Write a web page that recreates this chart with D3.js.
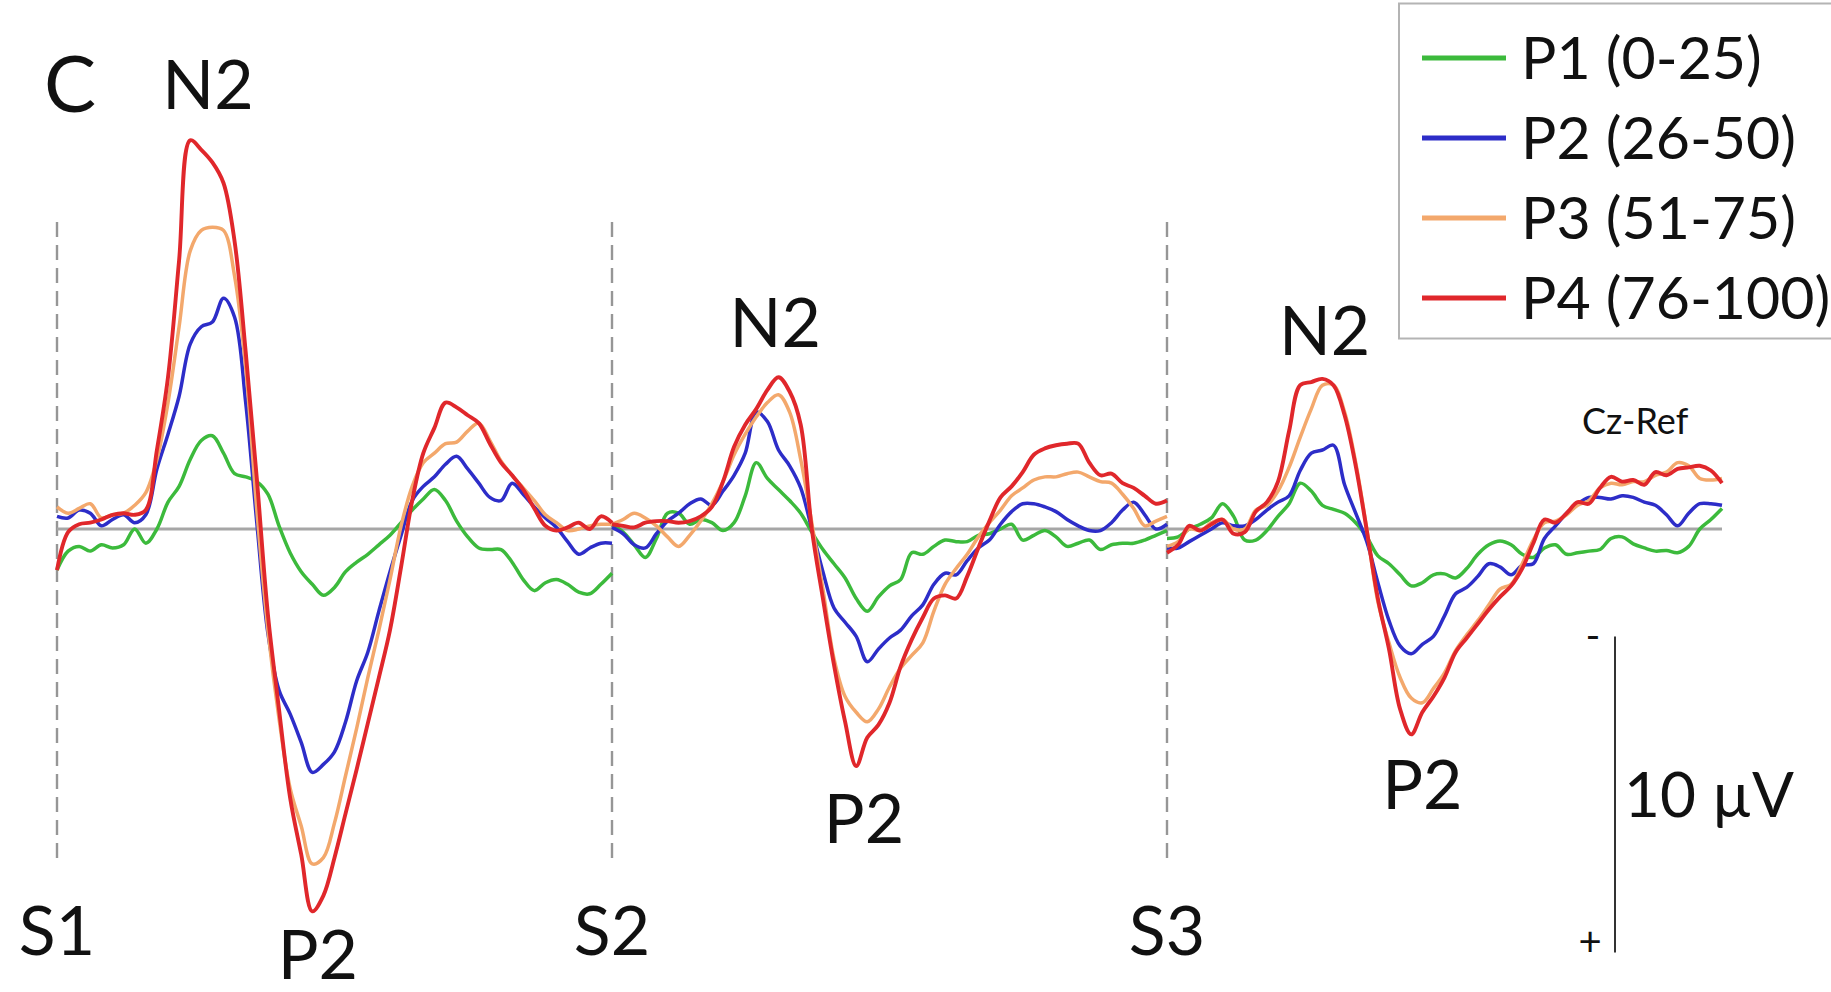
<html>
<head>
<style>
body { margin: 0; background: #fff; }
svg { display: block; font-family: Lato, 'Open Sans', sans-serif; }
</style>
</head>
<body>
<svg></svg>
<script src="https://d3js.org/d3.v7.min.js"></script>
<script>

const fullWidth = 1831;
const fullHeight = 992;

// sample times (ms after each stimulus) and stimulus onsets (ms)
const times = d3.range(0, 501, 10);
const onsets = [0, 500, 1000];
const stimLabels = ['S1', 'S2', 'S3'];

const seriesNames = ['P1 (0-25)', 'P2 (26-50)', 'P3 (51-75)', 'P4 (76-100)'];
const seriesColors = ['#3cba3c', '#2d2dc8', '#f3a86c', '#e0272b'];

// amplitudes in microvolts, one array per stimulus segment (negative up)
const p1 = [
    [1.3, 0.7, 0.55, 0.7, 0.5, 0.6, 0.5, 0.0, 0.45, 0.0, -0.85, -1.35, -2.2, -2.8, -2.95, -2.4, -1.75, -1.65, -1.5, -1.1, -0.1, 0.75, 1.35, 1.75, 2.1, 1.85, 1.35, 1.05, 0.8, 0.5, 0.2, -0.2, -0.6, -0.95, -1.25, -0.9, -0.25, 0.25, 0.6, 0.65, 0.65, 1.05, 1.6, 1.95, 1.7, 1.6, 1.75, 2.0, 2.05, 1.75, 1.4],
    [-0.15, 0.1, 0.5, 0.9, 0.3, -0.5, -0.5, -0.15, -0.3, -0.2, 0.05, -0.2, -1.05, -2.1, -1.6, -1.25, -0.9, -0.5, 0.1, 0.65, 1.1, 1.55, 2.2, 2.6, 2.15, 1.8, 1.6, 0.75, 0.8, 0.55, 0.35, 0.4, 0.4, 0.2, 0.15, 0.0, -0.15, 0.35, 0.2, 0.05, 0.25, 0.55, 0.45, 0.35, 0.65, 0.5, 0.45, 0.45, 0.35, 0.2, 0.05],
    [0.3, 0.25, 0.0, -0.15, -0.35, -0.8, -0.4, 0.35, 0.35, 0.05, -0.4, -0.8, -1.45, -1.2, -0.75, -0.62, -0.5, -0.2, 0.25, 0.85, 1.1, 1.45, 1.8, 1.7, 1.45, 1.42, 1.55, 1.25, 0.8, 0.5, 0.38, 0.5, 0.8, 0.9, 0.6, 0.5, 0.8, 0.75, 0.7, 0.65, 0.3, 0.25, 0.47, 0.6, 0.7, 0.68, 0.75, 0.55, 0.0, -0.3, -0.65]
];
const p2 = [
    [-0.4, -0.35, -0.6, -0.5, -0.1, -0.3, -0.45, -0.2, -0.45, -1.9, -3.0, -4.2, -5.85, -6.4, -6.55, -7.3, -6.7, -4.0, -0.2, 3.3, 5.1, 5.85, 6.75, 7.7, 7.45, 7.05, 6.1, 4.8, 3.9, 2.6, 1.35, 0.2, -0.9, -1.35, -1.65, -2.05, -2.3, -1.9, -1.45, -1.0, -0.9, -1.45, -1.1, -0.7, -0.35, -0.05, 0.4, 0.8, 0.6, 0.45, 0.45],
    [-0.05, 0.15, 0.5, 0.6, 0.15, -0.25, -0.5, -0.8, -0.95, -0.75, -1.2, -1.7, -2.4, -3.7, -3.4, -2.5, -2.0, -1.3, 0.0, 1.35, 2.5, 2.95, 3.4, 4.2, 3.8, 3.45, 3.2, 2.75, 2.4, 1.75, 1.4, 1.45, 1.0, 0.6, 0.35, -0.15, -0.55, -0.8, -0.8, -0.7, -0.55, -0.3, -0.1, 0.05, 0.05, -0.2, -0.6, -0.85, -0.45, 0.0, -0.15],
    [0.6, 0.6, 0.4, 0.2, 0.0, -0.2, -0.1, -0.1, -0.3, -0.6, -0.85, -1.05, -1.85, -2.4, -2.5, -2.65, -1.4, -0.5, 0.4, 1.7, 2.9, 3.7, 3.95, 3.65, 3.4, 2.75, 2.05, 1.85, 1.5, 1.1, 1.2, 1.45, 1.15, 1.1, 0.3, -0.1, -0.5, -0.8, -1.0, -1.0, -0.95, -1.05, -1.0, -0.85, -0.75, -0.45, -0.1, -0.5, -0.8, -0.8, -0.75]
];
const p3 = [
    [-0.7, -0.5, -0.65, -0.8, -0.35, -0.45, -0.5, -0.75, -1.15, -2.2, -4.0, -6.4, -8.8, -9.45, -9.55, -9.45, -8.0, -5.1, -0.6, 3.2, 6.0, 8.2, 9.4, 10.6, 10.4, 9.3, 7.8, 6.3, 4.7, 3.2, 1.6, -0.1, -1.35, -2.1, -2.4, -2.7, -2.75, -3.1, -3.35, -2.8, -2.15, -1.7, -1.3, -0.9, -0.45, -0.2, 0.05, 0.0, -0.1, -0.15, -0.15],
    [-0.15, -0.3, -0.5, -0.35, -0.1, 0.25, 0.55, 0.2, -0.25, -0.8, -1.5, -2.35, -3.0, -3.55, -4.0, -4.25, -3.7, -2.2, -0.2, 1.9, 4.1, 5.3, 5.8, 6.1, 5.7, 5.0, 4.4, 4.0, 3.6, 2.6, 1.75, 1.25, 0.8, 0.25, -0.2, -0.6, -1.05, -1.3, -1.55, -1.65, -1.65, -1.75, -1.8, -1.65, -1.5, -1.45, -1.1, -0.65, -0.1, -0.25, -0.4],
    [0.55, 0.4, 0.0, 0.05, -0.2, -0.3, 0.0, 0.0, -0.6, -0.75, -1.2, -1.95, -2.9, -3.8, -4.55, -4.55, -3.7, -2.1, 0.0, 2.3, 3.6, 4.7, 5.35, 5.5, 5.05, 4.55, 3.85, 3.35, 2.9, 2.4, 1.9, 1.75, 1.1, 0.35, -0.2, -0.25, -0.45, -0.75, -0.9, -1.3, -1.45, -1.4, -1.5, -1.5, -1.7, -1.8, -2.1, -2.0, -1.6, -1.55, -1.6]
];
const p4 = [
    [1.3, 0.1, -0.15, -0.2, -0.3, -0.45, -0.5, -0.45, -0.6, -2.5, -4.8, -8.5, -12.3, -12.0, -11.6, -10.95, -9.1, -5.6, -1.6, 2.7, 5.7, 8.5, 10.3, 12.1, 11.6, 10.4, 9.0, 7.6, 6.15, 4.7, 3.2, 1.2, -0.9, -2.4, -3.2, -4.0, -3.85, -3.6, -3.35, -2.7, -2.1, -1.7, -1.25, -0.65, -0.1, 0.05, -0.05, -0.2, 0.0, -0.4, -0.2],
    [-0.15, -0.1, -0.05, -0.2, -0.25, -0.25, -0.2, -0.25, -0.4, -0.7, -1.5, -2.6, -3.3, -3.8, -4.4, -4.8, -4.35, -3.3, 0.0, 2.2, 4.3, 6.1, 7.5, 6.6, 6.2, 5.5, 4.35, 3.5, 2.8, 2.2, 2.1, 2.2, 1.5, 0.6, -0.25, -1.0, -1.35, -1.8, -2.35, -2.55, -2.65, -2.7, -2.7, -2.1, -1.7, -1.75, -1.45, -1.3, -1.05, -0.8, -0.9],
    [0.75, 0.5, -0.1, 0.05, -0.15, -0.3, 0.15, 0.1, -0.55, -0.85, -1.5, -3.1, -4.55, -4.65, -4.75, -4.55, -3.6, -2.0, 0.05, 2.2, 3.8, 5.7, 6.5, 5.8, 5.3, 4.7, 3.9, 3.45, 3.0, 2.55, 2.15, 1.8, 1.25, 0.45, -0.3, -0.2, -0.5, -0.85, -0.8, -1.3, -1.65, -1.5, -1.55, -1.4, -1.8, -1.7, -1.9, -1.95, -2.0, -1.85, -1.45]
];
const seriesValues = [p1, p2, p3, p4];

// component labels: [text, ms, microvolts]
const peakLabels = [
    ['N2', 136, -13.3], ['P2', 235, 14.25],
    ['N2', 647, -5.75], ['P2', 727, 9.95],
    ['N2', 1142, -5.5], ['P2', 1230, 8.85]
];
const scaleBarFrom = 3.4;   // microvolts
const scaleBarSize = 10;

const svg = d3.select('svg')
    .attr('width', fullWidth)
    .attr('height', fullHeight);

const x = d3.scaleLinear()
    .domain([0, 1500])
    .range([57, 1722]);

// positive plotted downwards, 10 uV = 316 px
const y = d3.scaleLinear()
    .domain([0, 10])
    .range([529, 845]);

// stimulus markers
svg.selectAll('line.stim')
    .data(onsets)
    .join('line')
    .attr('class', 'stim')
    .attr('x1', d => x(d)).attr('x2', d => x(d))
    .attr('y1', 222).attr('y2', 866)
    .attr('stroke', '#969696')
    .attr('stroke-width', 2.4)
    .attr('stroke-dasharray', '15 8');

svg.append('line')
    .attr('x1', x(0)).attr('x2', x(1500))
    .attr('y1', y(0)).attr('y2', y(0))
    .attr('stroke', '#a6a6a6')
    .attr('stroke-width', 3.2);

const line = d3.line()
    .x(d => x(d[0]))
    .y(d => y(d[1]))
    .curve(d3.curveCatmullRom.alpha(0.5));

seriesValues.forEach((segments, si) => {
    segments.forEach((vals, k) => {
        const pts = vals.map((v, i) => [onsets[k] + times[i], v]);
        svg.append('path')
            .attr('d', line(pts))
            .attr('fill', 'none')
            .attr('stroke', seriesColors[si])
            .attr('stroke-width', si === 3 ? 3.9 : 3.5)
            .attr('stroke-linejoin', 'round');
    });
});

const textColor = '#111';

svg.selectAll('text.stim')
    .data(stimLabels)
    .join('text')
    .attr('class', 'stim')
    .attr('x', (d, i) => x(onsets[i]))
    .attr('y', 955)
    .attr('text-anchor', 'middle')
    .attr('font-size', 68)
    .attr('fill', textColor)
    .text(d => d);

svg.selectAll('text.peak')
    .data(peakLabels)
    .join('text')
    .attr('class', 'peak')
    .attr('x', d => x(d[1]))
    .attr('y', d => y(d[2]))
    .attr('text-anchor', 'middle')
    .attr('font-size', 68)
    .attr('fill', textColor)
    .text(d => d[0]);

svg.append('text')
    .attr('x', 44).attr('y', 112)
    .attr('font-size', 78)
    .attr('fill', textColor)
    .text('C');

svg.append('text')
    .attr('x', 1582).attr('y', 434)
    .attr('font-size', 36)
    .attr('fill', textColor)
    .text('Cz-Ref');

// scale bar
const barX = 1615;
svg.append('line')
    .attr('x1', barX).attr('x2', barX)
    .attr('y1', y(scaleBarFrom)).attr('y2', y(scaleBarFrom + scaleBarSize))
    .attr('stroke', '#333')
    .attr('stroke-width', 2);
svg.append('text')
    .attr('x', barX - 22).attr('y', y(scaleBarFrom) + 14)
    .attr('text-anchor', 'middle')
    .attr('font-size', 40)
    .attr('fill', textColor)
    .text('-');
svg.append('text')
    .attr('x', barX - 25).attr('y', y(scaleBarFrom + scaleBarSize) + 4)
    .attr('text-anchor', 'middle')
    .attr('font-size', 40)
    .attr('fill', textColor)
    .text('+');
svg.append('text')
    .attr('x', barX + 9).attr('y', 817)
    .attr('font-size', 62)
    .attr('fill', textColor)
    .text('10 \u00b5V');

// legend
const legend = svg.append('g');
legend.append('rect')
    .attr('x', 1399).attr('y', 3.5)
    .attr('width', 500).attr('height', 335)
    .attr('fill', '#fff')
    .attr('stroke', '#b4b4b4')
    .attr('stroke-width', 2);

const rows = legend.selectAll('g.row')
    .data(seriesNames)
    .join('g')
    .attr('class', 'row')
    .attr('transform', (d, i) => `translate(0, ${58 + i * 80})`);

rows.append('line')
    .attr('x1', 1422).attr('x2', 1506)
    .attr('stroke', (d, i) => seriesColors[i])
    .attr('stroke-width', 5);

rows.append('text')
    .attr('x', 1521).attr('y', 21)
    .attr('font-size', 59)
    .attr('fill', textColor)
    .text(d => d);

</script>
</body>
</html>
